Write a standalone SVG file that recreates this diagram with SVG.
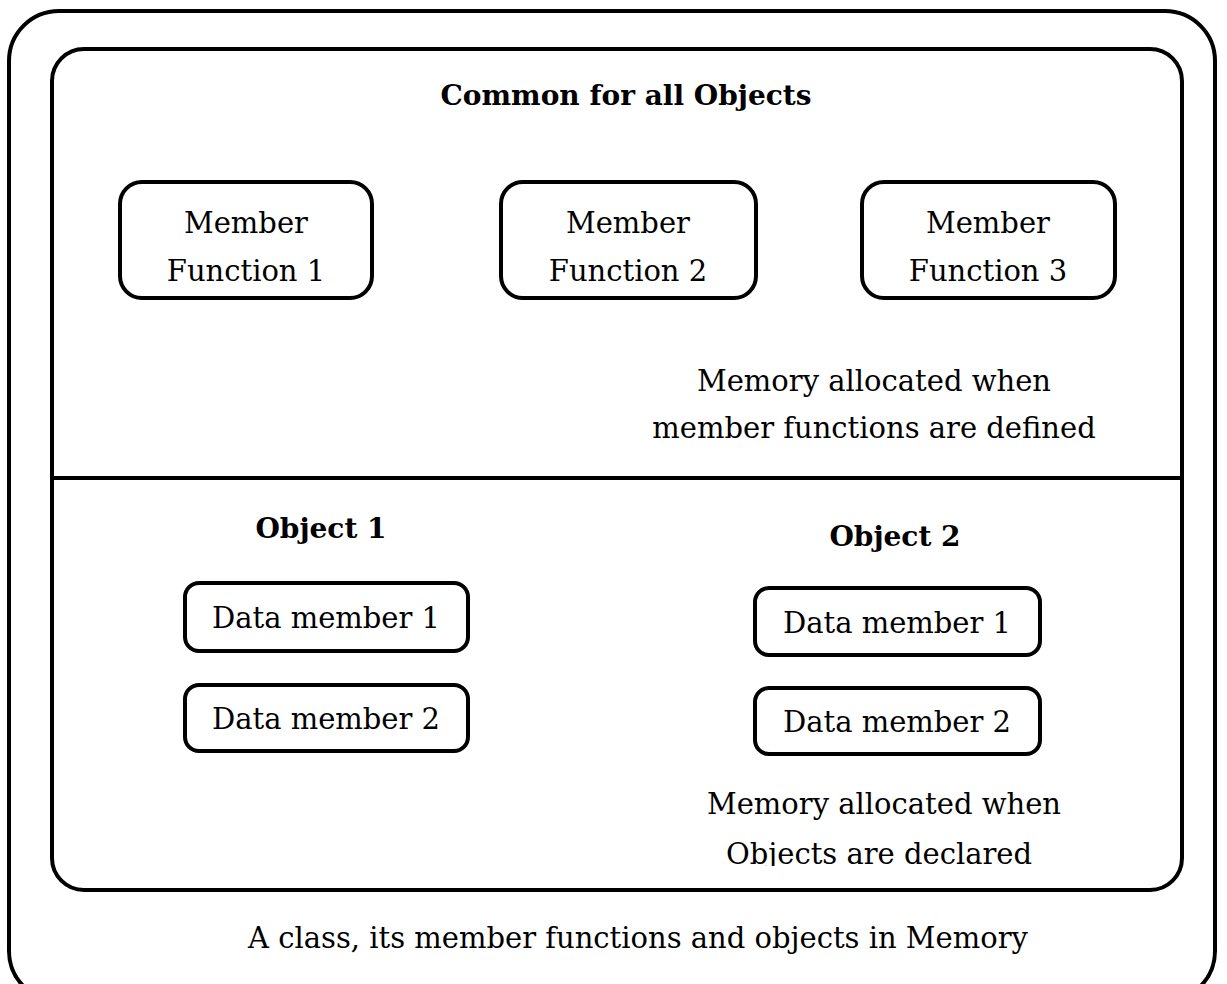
<svg xmlns="http://www.w3.org/2000/svg" width="1227" height="984" viewBox="0 0 1227 984">
<style>
.box{fill:#fff;stroke:#000;stroke-width:4}
.frame{fill:none;stroke:#000;stroke-width:4}
text{font-family:"DejaVu Serif","Liberation Serif",serif;font-size:29px;fill:#000;text-anchor:middle}
.b{font-weight:bold;font-size:28px}
</style>
<defs>
<clipPath id="innerClip"><rect x="52" y="49" width="1130" height="817"/></clipPath>
</defs>
<rect id="outer" class="frame" x="9" y="11" width="1206" height="990" rx="50" ry="50"/>
<g id="class-box">
<rect class="box" x="52" y="49" width="1130" height="841" rx="32" ry="32"/>
<line class="frame" x1="52" y1="478" x2="1182" y2="478"/>
<text class="b" x="626" y="105">Common for all Objects</text>
</g>
<g id="mf1">
<rect class="box" x="120" y="182" width="252" height="116" rx="22" ry="22"/>
<text x="246" y="233">Member</text>
<text x="246" y="281">Function 1</text>
</g>
<g id="mf2">
<rect class="box" x="501" y="182" width="255" height="116" rx="22" ry="22"/>
<text x="628" y="233">Member</text>
<text x="628" y="281">Function 2</text>
</g>
<g id="mf3">
<rect class="box" x="862" y="182" width="253" height="116" rx="22" ry="22"/>
<text x="988" y="233">Member</text>
<text x="988" y="281">Function 3</text>
</g>
<g id="note-functions">
<text x="874" y="391">Memory allocated when</text>
<text x="874" y="438">member functions are defined</text>
</g>
<g id="object1">
<text class="b" x="321" y="538">Object 1</text>
</g>
<g id="obj1-dm1">
<rect class="box" x="185" y="583" width="283" height="68" rx="14" ry="14"/>
<text x="326" y="628">Data member 1</text>
</g>
<g id="obj1-dm2">
<rect class="box" x="185" y="685" width="283" height="66" rx="14" ry="14"/>
<text x="326" y="729">Data member 2</text>
</g>
<g id="object2">
<text class="b" x="895" y="546">Object 2</text>
</g>
<g id="obj2-dm1">
<rect class="box" x="755" y="588" width="285" height="67" rx="14" ry="14"/>
<text x="897" y="633">Data member 1</text>
</g>
<g id="obj2-dm2">
<rect class="box" x="755" y="688" width="285" height="66" rx="14" ry="14"/>
<text x="897" y="732">Data member 2</text>
</g>
<g id="note-objects" clip-path="url(#innerClip)">
<text x="884" y="814">Memory allocated when</text>
<text x="879" y="864">Objects are declared</text>
</g>
<g id="caption">
<text x="638" y="948">A class, its member functions and objects in Memory</text>
</g>
<g id="connectors"/>
</svg>
